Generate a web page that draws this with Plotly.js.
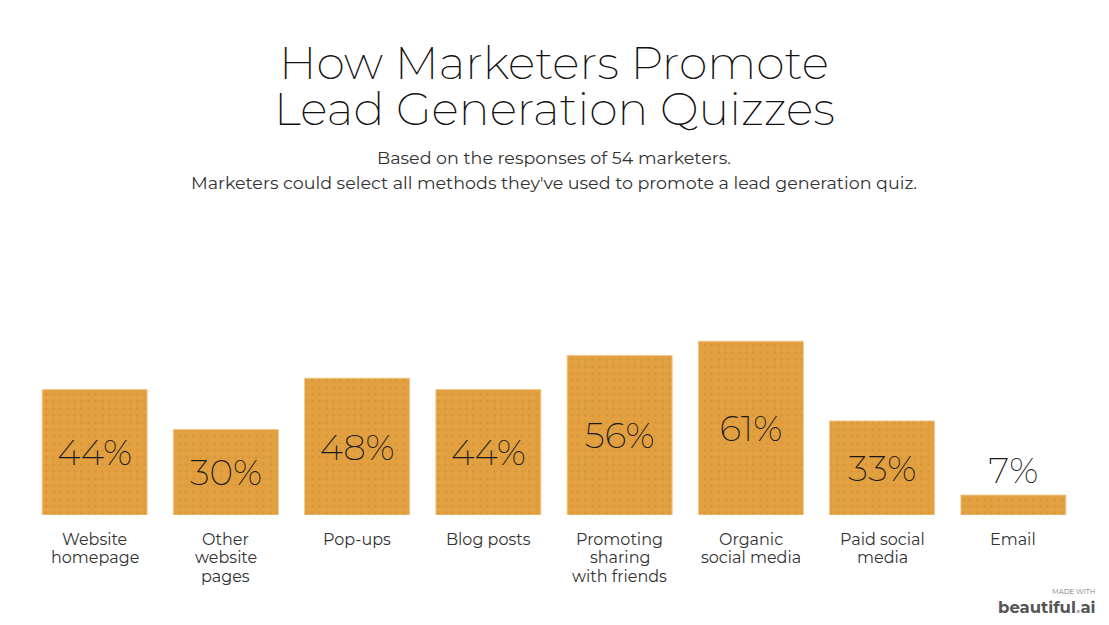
<!DOCTYPE html>
<html>
<head>
<meta charset="utf-8">
<script src="https://cdn.plot.ly/plotly-3.0.1.min.js"></script>
<style>
  html, body { margin: 0; padding: 0; background: #fff; }
  #chart { width: 1109px; height: 625px; }
</style>
</head>
<body>
<div id="chart"></div>
<script>
const categories = [
    'Website homepage',
    'Other website pages',
    'Pop-ups',
    'Blog posts',
    'Promoting sharing with friends',
    'Organic social media',
    'Paid social media',
    'Email'
];
// how each category label wraps under its bar
const labelLines = [
    ['Website', 'homepage'],
    ['Other', 'website', 'pages'],
    ['Pop-ups'],
    ['Blog posts'],
    ['Promoting', 'sharing', 'with friends'],
    ['Organic', 'social media'],
    ['Paid social', 'media'],
    ['Email']
];
const percents = [44, 30, 48, 44, 56, 61, 33, 7];

const titleLines = ['How Marketers Promote', 'Lead Generation Quizzes'];
const subtitleLines = [
    'Based on the responses of 54 marketers.',
    'Marketers could select all methods they\'ve used to promote a lead generation quiz.'
];

const FONT = 'Montserrat, Lato, "Noto Sans", sans-serif';
const BAR = '#e2a040';

const trace = {
    x: categories,
    y: percents,
    type: 'bar',
    marker: {
        color: BAR,
        line: { color: '#efc98d', width: 1 },
        pattern: { shape: '.', size: 7, solidity: 0.1, fgcolor: '#d69639', bgcolor: BAR }
    },
    text: percents.map(v => v + '%'),
    textposition: percents.map(v => v > 20 ? 'inside' : 'outside'),
    insidetextanchor: 'middle',
    constraintext: 'none',
    cliponaxis: false,
    textfont: { family: FONT, size: 36, color: '#1a1a1a', weight: 200 },
    hoverinfo: 'skip'
};

const annotations = [];

titleLines.forEach((t, i) => {
    annotations.push({
        text: t, xref: 'paper', yref: 'paper', x: 0.5, y: 1,
        yshift: 168 - i * 46, xanchor: 'center', yanchor: 'middle', showarrow: false,
        font: { family: FONT, size: 46, color: '#111', weight: 200 }
    });
});

subtitleLines.forEach((t, i) => {
    annotations.push({
        text: t, xref: 'paper', yref: 'paper', x: 0.5, y: 1,
        yshift: 73 - i * 25, xanchor: 'center', yanchor: 'middle', showarrow: false,
        font: { family: FONT, size: 17.5, color: '#333' }
    });
});

labelLines.forEach((lines, c) => {
    lines.forEach((t, i) => {
        annotations.push({
            text: t, xref: 'x', yref: 'y', x: categories[c], y: 0,
            yshift: -24 - i * 18.5, xanchor: 'center', yanchor: 'middle', showarrow: false,
            font: { family: FONT, size: 16, color: '#333' }
        });
    });
});

annotations.push({
    text: 'MADE WITH',
    xref: 'paper', yref: 'paper', x: 1, y: 0, xshift: 19, yshift: -76,
    xanchor: 'right', yanchor: 'middle', showarrow: false,
    font: { family: FONT, size: 7, color: '#777' }
});
annotations.push({
    text: '<b>beautiful<span style="color:#aaa">.</span>ai</b>',
    xref: 'paper', yref: 'paper', x: 1, y: 0, xshift: 19, yshift: -92,
    xanchor: 'right', yanchor: 'middle', showarrow: false,
    font: { family: FONT, size: 16.5, color: '#555' }
});

const layout = {
    width: 1109,
    height: 625,
    paper_bgcolor: '#fff',
    plot_bgcolor: '#fff',
    margin: { l: 29, r: 30, t: 230, b: 110 },
    bargap: 0.2,
    showlegend: false,
    font: { family: FONT, color: '#333' },
    xaxis: {
        type: 'category',
        showgrid: false, zeroline: false, showline: false,
        ticks: '', showticklabels: false
    },
    yaxis: {
        range: [0, 100],
        visible: false,
        fixedrange: true
    },
    annotations: annotations
};

Plotly.newPlot('chart', [trace], layout, { displayModeBar: false, staticPlot: true });
</script>
</body>
</html>
